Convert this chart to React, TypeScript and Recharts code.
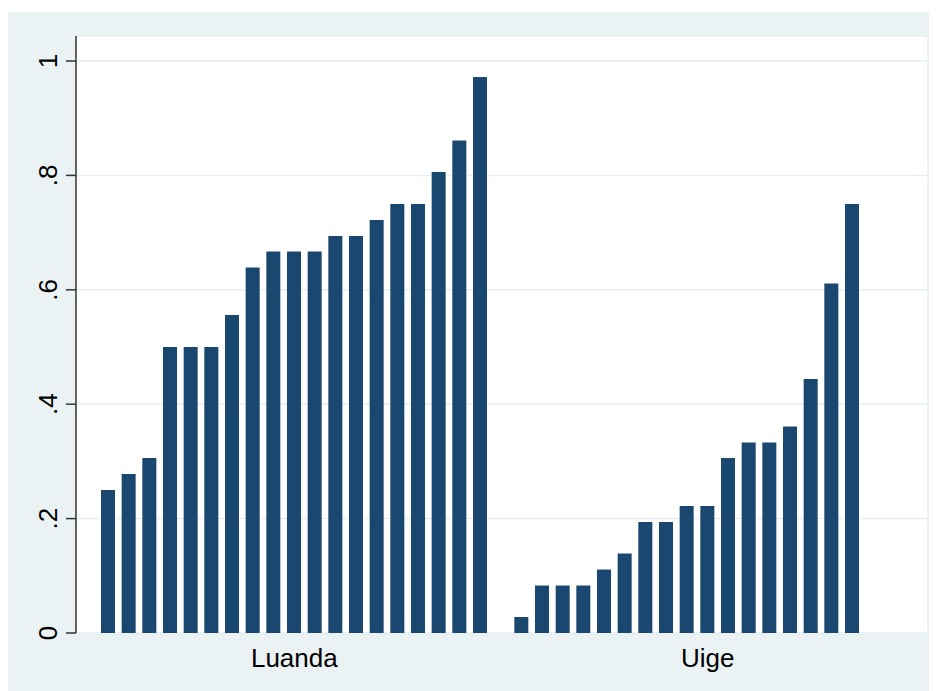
import { BarChart, Bar, XAxis, YAxis, CartesianGrid } from "recharts";

const groups = ["Luanda", "Uige"];
const luandaValues = [0.25, 0.278, 0.306, 0.5, 0.5, 0.5, 0.556, 0.639, 0.667, 0.667, 0.667, 0.694, 0.694, 0.722, 0.75, 0.75, 0.806, 0.861, 0.972];
const uigeValues = [0.028, 0.083, 0.083, 0.083, 0.111, 0.139, 0.194, 0.194, 0.222, 0.222, 0.306, 0.333, 0.333, 0.361, 0.444, 0.611, 0.75];
const yTicks = [0, 0.2, 0.4, 0.6, 0.8, 1];
const yTickLabels = ["0", ".2", ".4", ".6", ".8", "1"];

// each group gets the same number of slots (Stata over() with nofill)
const slots = Math.max(luandaValues.length, uigeValues.length);
const seriesByGroup = [luandaValues, uigeValues];

const rows: { key: string; value: number | null }[] = [];
groups.forEach((g, gi) => {
  if (gi > 0) rows.push({ key: `gap-${gi}`, value: null });
  for (let i = 0; i < slots; i++) {
    const v = seriesByGroup[gi][i];
    rows.push({ key: `${g}-${i}`, value: v === undefined ? null : v });
  }
});
const mid = Math.floor(slots / 2);
const groupTicks = groups.map((g) => `${g}-${mid}`);

const font = "'Liberation Sans', Arial, Helvetica, sans-serif";

const GroupTick = (props: any) => {
  const { x, y, payload } = props;
  const name = String(payload.value).split("-")[0];
  return (
    <text x={x} y={y + 34} textAnchor="middle" fontSize={26} fontFamily={font} fill="#000">
      {name}
    </text>
  );
};

const YTick = (props: any) => {
  const { x, y, payload } = props;
  const idx = yTicks.findIndex((t) => Math.abs(t - payload.value) < 1e-9);
  const label = idx >= 0 ? yTickLabels[idx] : String(payload.value);
  const tx = x - 9;
  return (
    <text
      x={tx}
      y={y}
      transform={`rotate(-90, ${tx}, ${y})`}
      textAnchor="middle"
      fontSize={26}
      fontFamily={font}
      fill="#000"
    >
      {label}
    </text>
  );
};

export default function App() {
  return (
    <div style={{ marginTop: 4, width: 929, height: 679, background: "#EAF2F3" }}>
      <BarChart
        width={929}
        height={679}
        data={rows}
        margin={{ top: 24, right: 10, bottom: 8, left: 0 }}
        barSize={14}
      >
        <CartesianGrid
          vertical={false}
          fill="#ffffff"
          stroke="#E6EEF1"
          strokeWidth={1.5}
        />
        <XAxis
          dataKey="key"
          ticks={groupTicks}
          interval={0}
          axisLine={false}
          tickLine={false}
          tickSize={0}
          tickMargin={0}
          height={50}
          padding={{ left: 22, right: 23 }}
          tick={<GroupTick />}
        />
        <YAxis
          type="number"
          domain={[0, 1.0437]}
          ticks={yTicks}
          width={68}
          tickSize={10}
          tickMargin={0}
          axisLine={{ stroke: "#333", strokeWidth: 1.5 }}
          tickLine={{ stroke: "#333", strokeWidth: 1.5 }}
          tick={<YTick />}
          allowDataOverflow
        />
        <Bar dataKey="value" fill="#1A476F" isAnimationActive={false} />
      </BarChart>
    </div>
  );
}
